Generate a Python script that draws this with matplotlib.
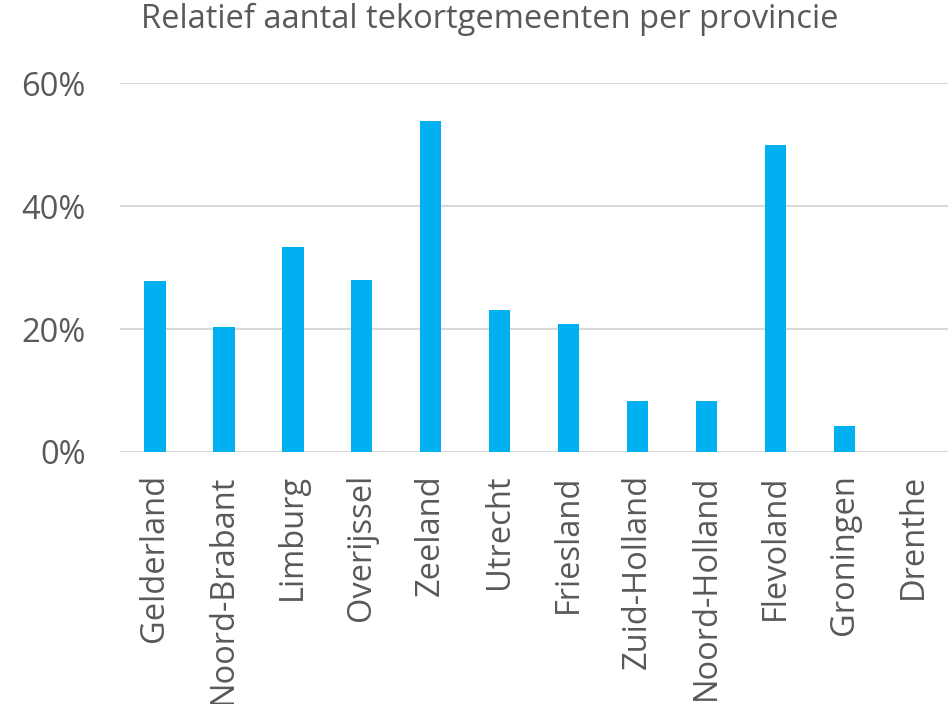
import matplotlib
matplotlib.use("Agg")
import matplotlib.pyplot as plt
from matplotlib.ticker import FuncFormatter

provinces = ["Gelderland", "Noord-Brabant", "Limburg", "Overijssel", "Zeeland",
             "Utrecht", "Friesland", "Zuid-Holland", "Noord-Holland", "Flevoland",
             "Groningen", "Drenthe"]
values = [27.8, 20.3, 33.3, 28.0, 53.8, 23.1, 20.8, 8.3, 8.3, 50.0, 4.2, 0.0]
yticks = [0, 20, 40, 60]

plt.rcParams['font.family'] = ['Open Sans', 'DejaVu Sans']
fig = plt.figure(figsize=(9.48, 7.04), dpi=100)
ax = fig.add_axes([0.127, 0.358, 0.873, 0.524])
x = list(range(len(provinces)))
ax.bar(x, values, width=0.31, color="#00B0F0", zorder=3)
ax.set_xlim(-0.5, len(provinces) - 0.5)
ax.set_ylim(0, 60)
ax.set_yticks(yticks)
ax.yaxis.set_major_formatter(FuncFormatter(lambda v, p: f"{int(v)}%"))
ax.grid(axis="y", color="#D9D9D9", linewidth=1.5, zorder=0)
ax.set_axisbelow(True)
for s in ax.spines.values():
    s.set_visible(False)
ax.tick_params(axis="both", length=0, colors="#595959", labelsize=23.5)
ax.tick_params(axis="y", pad=25)
ax.tick_params(axis="x", pad=16)
ax.set_xticks(x)
ax.set_xticklabels(provinces, rotation=90)
fig.text(0.517, 0.972, "Relatief aantal tekortgemeenten per provincie",
         ha="center", va="center", fontsize=23.5, color="#595959")
fig.savefig("out.png", dpi=100)
